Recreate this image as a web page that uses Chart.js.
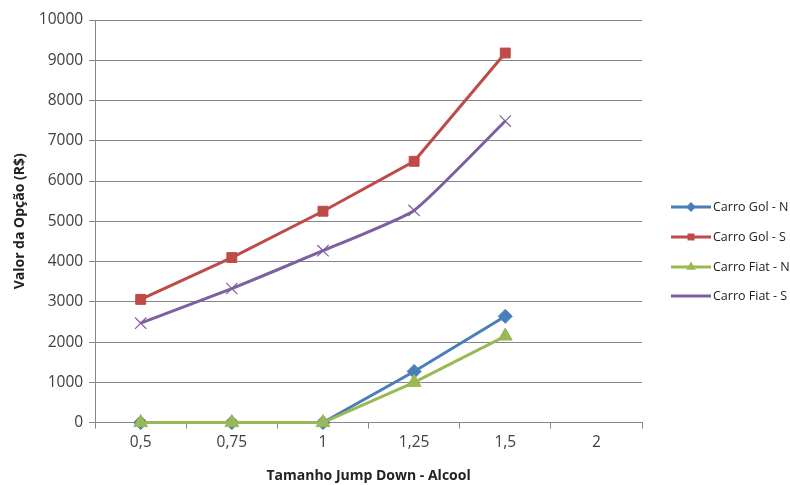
<!DOCTYPE html>
<html lang="en">
<head>
	<meta charset="UTF-8">
	<title>Valor da Opção</title>
	<script src="https://cdn.jsdelivr.net/npm/chart.js"></script>
	<style>
		body { margin: 0; background: #fff; }
		#wrap { width: 790px; height: 485px; position: relative; }
	</style>
</head>
<body>
	<div id="wrap"><canvas id="chart"></canvas></div>
	<script>
		// data
		const categories = ['0,5', '0,75', '1', '1,25', '1,5', '2'];
		const golN = [0, 0, 0, 1270, 2640, null];
		const golS = [3060, 4100, 5250, 6490, 9180, null];
		const fiatN = [0, 0, 0, 1000, 2150, null];
		const fiatS = [2470, 3330, 4270, 5270, 7490, null];

		const seriesNames = ['Carro Gol - N', 'Carro Gol - S', 'Carro Fiat - N', 'Carro Fiat - S'];
		const seriesColors = ['#4a7ebb', '#be4b48', '#98b954', '#7d60a0'];
		const seriesMarkers = ['rectRot', 'rect', 'triangle', 'crossRot'];
		const markerSizes = [7, 7, 8, 8];

		const fontFam = "'Open Sans', sans-serif";

		// legend drawn like excel: short line with the marker in the middle
		const sideLegend = {
			id: 'sideLegend',
			afterDraw(chart) {
				const ctx = chart.ctx;
				const ys = [207, 237, 267, 296];
				chart.data.datasets.forEach((ds, i) => {
					const y = ys[i];
					ctx.save();
					ctx.strokeStyle = ds.borderColor;
					ctx.lineWidth = 3;
					ctx.beginPath();
					ctx.moveTo(671, y);
					ctx.lineTo(711, y);
					ctx.stroke();
					ctx.fillStyle = ds.pointBackgroundColor;
					ctx.strokeStyle = ds.pointBorderColor;
					ctx.lineWidth = ds.pointBorderWidth;
					Chart.helpers.drawPoint(ctx, { pointStyle: ds.pointStyle, radius: ds.pointRadius * 0.7, rotation: 0 }, 691, y);
					ctx.fillStyle = '#222';
					ctx.font = "12.5px " + fontFam;
					ctx.textBaseline = 'middle';
					ctx.fillText(ds.label, 713, y);
					ctx.restore();
				});
			}
		};

		const allValues = [golN, golS, fiatN, fiatS];
		const datasets = allValues.map((vals, i) => ({
			label: seriesNames[i],
			data: vals,
			order: allValues.length - i,
			clip: false,
			borderColor: seriesColors[i],
			backgroundColor: seriesColors[i],
			borderWidth: 3,
			pointStyle: seriesMarkers[i],
			pointRadius: markerSizes[i],
			pointBackgroundColor: seriesColors[i],
			pointBorderColor: seriesColors[i],
			pointBorderWidth: i === 3 ? 1.2 : 1,
			tension: i === 3 ? 0.15 : 0
		}));

		new Chart(document.getElementById('chart'), {
			type: 'line',
			data: { labels: categories, datasets: datasets },
			options: {
				responsive: true,
				maintainAspectRatio: false,
				animation: false,
				layout: { padding: { top: 20, right: 148, left: 8, bottom: 1 } },
				plugins: {
					legend: { display: false },
					tooltip: { enabled: false }
				},
				scales: {
					x: {
						offset: true,
						grid: { offset: true, drawOnChartArea: false, color: '#868686', tickLength: 6 },
						border: { color: '#868686', width: 1 },
						ticks: { color: '#404040', font: { family: fontFam, size: 15.5 }, padding: 5 },
						title: { display: true, text: 'Tamanho Jump Down - Alcool', color: '#222', font: { family: fontFam, size: 14, weight: 'bold' }, padding: { top: 10, bottom: 0 } }
					},
					y: {
						min: 0,
						max: 10000,
						ticks: { stepSize: 1000, color: '#404040', font: { family: fontFam, size: 15.5 }, padding: 6,
							callback: v => String(v) },
						grid: { color: '#868686', tickLength: 6 },
						border: { color: '#868686', width: 1 },
						title: { display: true, text: 'Valor da Opção (R$)', color: '#222', font: { family: fontFam, size: 14, weight: 'bold' }, padding: { bottom: 4 } }
					}
				}
			},
			plugins: [sideLegend]
		});
	</script>
</body>
</html>
